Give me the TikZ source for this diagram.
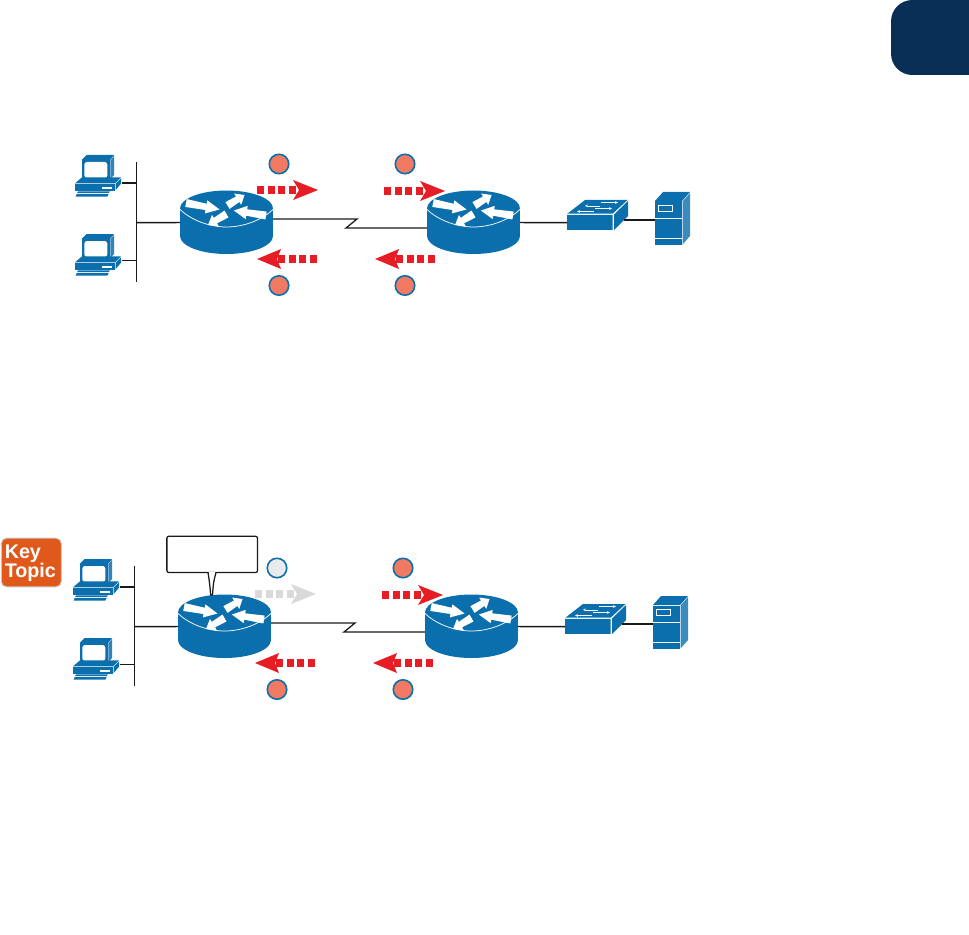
\documentclass[tikz,border=0pt]{standalone}
\usepackage{fontspec}
\setmainfont{Liberation Sans}
\usetikzlibrary{calc,arrows.meta}
\definecolor{netblue}{HTML}{0B6EAD}
\definecolor{flowred}{HTML}{E71D25}
\definecolor{flowgrey}{HTML}{D9D9D9}
\definecolor{salmon}{HTML}{F27A62}
\definecolor{paleblob}{HTML}{E8EAEC}
\definecolor{navytab}{HTML}{092F57}
\definecolor{keyorange}{HTML}{E0581A}
\definecolor{keyedge}{HTML}{C8C8C8}
\definecolor{wire}{HTML}{1A1A1A}
\newcommand\whitearrow[2]{%
  \fill[white] ($(#1)!3pt!90:(#2)$) -- ($(#1)!.6!(#2)!2.4pt!90:(#2)$) -- ($(#1)!.6!(#2)!5pt!90:(#2)$) -- (#2)
    -- ($(#1)!.6!(#2)!5pt!-90:(#2)$) -- ($(#1)!.6!(#2)!2.4pt!-90:(#2)$) -- ($(#1)!3pt!-90:(#2)$) -- cycle;}
\tikzset{
  wireline/.style={draw=wire,line width=1.1pt},
  wanline/.style={draw=wire,line width=.95pt},
  tagdot/.style={circle,draw=netblue,line width=1.2pt,minimum size=14.6pt,inner sep=0pt},
  pics/router/.style={code={
    \fill[netblue] (0,27.5) ellipse [x radius=46.5,y radius=18];
    \fill[netblue] (-46.5,0) rectangle (46.5,27.5);
    \fill[netblue] (0,0) ellipse [x radius=46.5,y radius=18];
    \draw[white,line width=.55pt] (-46.5,1) .. controls (-36,11) and (-18,18.5) .. (0,18.5) .. controls (18,18.5) and (36,11) .. (46.5,1);
    \coordinate (a1) at (-40.5,-5.5); \coordinate (a2) at (-7,1);
    \whitearrow{a1}{a2}
    \coordinate (b1) at (1,-3); \coordinate (b2) at (18,-13.5);
    \whitearrow{b1}{b2}
    \coordinate (c1) at (39.5,7); \coordinate (c2) at (7.3,2);
    \whitearrow{c1}{c2}
    \coordinate (d1) at (0,5.5); \coordinate (d2) at (-18.5,16.5);
    \whitearrow{d1}{d2}
    \coordinate (-w) at (-46.5,14);
    \coordinate (-e) at (46.5,14);
    \coordinate (-ne) at (46.5,10.5);
    \coordinate (-nw) at (-46.5,19.5);
  }},
  pics/pcicon/.style={code={
    \begin{scope}[x=.25pt,y=-.25pt]
      \fill[netblue] (65,60) -- (80,45) -- (162,45) -- (150,60) -- cycle;
      \fill[netblue!85] (151,61) -- (162,47) -- (162,105) -- (151,118) -- cycle;
      \fill[netblue] (65,60) rectangle (149,120);
      \fill[white,rounded corners=2pt] (73,66) rectangle (142,114);
      \fill[netblue] (45,130) -- (66,112) -- (183,112) -- (165,130) -- cycle;
      \fill[netblue] (167,131) -- (183,115) -- (183,131) -- (167,150) -- cycle;
      \fill[netblue] (45,133) rectangle (165,152);
      \fill[white] (125,141) rectangle (156,146);
      \fill[netblue] (55,154) -- (150,154) -- (146,159) -- (51,159) -- cycle;
      \fill[netblue] (50,162) -- (146,162) -- (142,170) -- (47,170) -- cycle;
      \coordinate (-e) at (183,130);
    \end{scope}
  }},
  pics/swicon/.style={code={
    \fill[netblue] (0,14) -- (18,0) -- (61,0) -- (46,14) -- cycle;
    \fill[netblue] (47,14.5) -- (61,1) -- (61,16) -- (47,30) -- cycle;
    \fill[netblue] (0,14.5) rectangle (46,30);
    \draw[white,line width=.4pt] (0,14) -- (46,14) -- (46,30) (46,14) -- (61,0);
    \draw[white,line width=.4pt,-{Stealth[length=2.2pt,width=2pt]}] (34,2.5) -- (51,2.5);
    \draw[white,line width=.4pt,-{Stealth[length=2.2pt,width=2pt]}] (33,5.8) -- (18,5.8);
    \draw[white,line width=.4pt,-{Stealth[length=2.2pt,width=2pt]}] (28,8.5) -- (45,8.5);
    \draw[white,line width=.4pt,-{Stealth[length=2.2pt,width=2pt]}] (27,11.5) -- (10,11.5);
  }},
  pics/srvicon/.style={code={
    \fill[netblue] (0,9) -- (8,0) -- (35,0) -- (27,9) -- cycle;
    \fill[netblue!80] (27.5,9.5) -- (35,1) -- (35,44) -- (27.5,52.5) -- cycle;
    \fill[netblue] (0,9.5) rectangle (27,53);
    \draw[white,line width=.45pt] (0,26) -- (27,26) (0,46) -- (27,46);
    \draw[white,line width=.45pt] (3.5,13) rectangle (17.5,19);
  }},
  pics/flowright/.style={code={
    \foreach \q in {0,11,21,32} \fill[#1] (\q,-3.7) rectangle ++(7.4,7.4);
    \fill[#1] (36,-10) -- (61,0) -- (36,10) -- (42,0) -- cycle;
  }},
  pics/flowleft/.style={code={
    \foreach \q in {21,32,42,53} \fill[#1] (\q,-3.7) rectangle ++(7.4,7.4);
    \fill[#1] (24,-10) -- (0,0) -- (24,10) -- (20,0) -- cycle;
  }},
}
\newcommand\netdiag[3]{%
  \pic (#1pca) at (60,140) {pcicon};
  \pic (#1pcb) at (60,219) {pcicon};
  \coordinate (#1bust) at (136.5,162);
  \coordinate (#1busb) at (136.5,282);
  \coordinate (#1jna) at (136.5,183);
  \coordinate (#1jnb) at (136.5,260.5);
  \coordinate (#1jnc) at (136.5,222.7);
  \draw[wireline] (#1bust) -- (#1busb);
  \coordinate (#1pae) at (122,183);
  \coordinate (#1pbe) at (122,260.5);
  \draw[wireline] (#1pae) -- (#1jna);
  \draw[wireline] (#1pbe) -- (#1jnb);
  \pic (#1ra) at (226.5,208.5) {router};
  \pic (#1rb) at (473.5,208.5) {router};
  \draw[wireline] (#1jnc) -- (#1ra-w);
  \coordinate (#1za) at (357,219);
  \coordinate (#1zb) at (346,228);
  \draw[wanline] (#1ra-ne) -- (#1za) -- (#1zb) -- (#1rb-nw);
  \pic (#1sw) at (567,200) {swicon};
  \pic (#1srv) at (655,192) {srvicon};
  \coordinate (#1swl) at (567,222.7);
  \coordinate (#1swr) at (624,220);
  \coordinate (#1srl) at (655,220);
  \draw[wireline] (#1rb-e) -- (#1swl);
  \draw[wireline] (#1swr) -- (#1srl);
  \node[tagdot,fill=#2] (#1ta) at (279,164) {};
  \node[tagdot,fill=salmon] (#1tb) at (405,164) {};
  \node[tagdot,fill=salmon] (#1tc) at (279,285.5) {};
  \node[tagdot,fill=salmon] (#1td) at (405,285.5) {};
  \pic at (257,190) {flowright=#3};
  \pic at (384,191) {flowright=flowred};
  \pic at (257,259) {flowleft=flowred};
  \pic at (375,259) {flowleft=flowred};
}
\begin{document}
\begin{tikzpicture}[x=.75pt,y=-.75pt]
\useasboundingbox (0,0) rectangle (969,934);
% chapter tab
\fill[navytab] (969,0) [rounded corners=16pt] -- (891,0) -- (891,75) [sharp corners] -- (969,75) -- cycle;
% first diagram
\netdiag{p}{salmon}{flowred}
% second diagram
\begin{scope}[shift={(-2,404)}]
  \netdiag{q}{paleblob}{flowgrey}
\end{scope}
% callout
\node[draw=wire,fill=white,line width=.95pt,rounded corners=1.5pt,minimum width=68pt,minimum height=27.2pt,inner sep=0pt] (callout) at (212.2,554.4) {};
\draw[draw=wire,fill=white,line width=.95pt] (208,572.5) .. controls (209.5,582) .. (210.7,595) -- (212.5,595) .. controls (213.5,582) .. (216,572.5);
\draw[white,line width=1.4pt] (208.8,572.6) -- (215.2,572.6);
% key topic
\node[fill=keyorange,draw=keyedge,line width=.7pt,rounded corners=4pt,minimum width=45pt,minimum height=36.5pt,inner sep=0pt] (key) at (31.3,562.5) {};
\node[text=white,font=\bfseries\fontsize{14.8pt}{14.2pt}\selectfont,align=left,inner sep=0pt,anchor=west] (keytext) at (4.5,563.5) {Key\\Topic};
\end{tikzpicture}
\end{document}
